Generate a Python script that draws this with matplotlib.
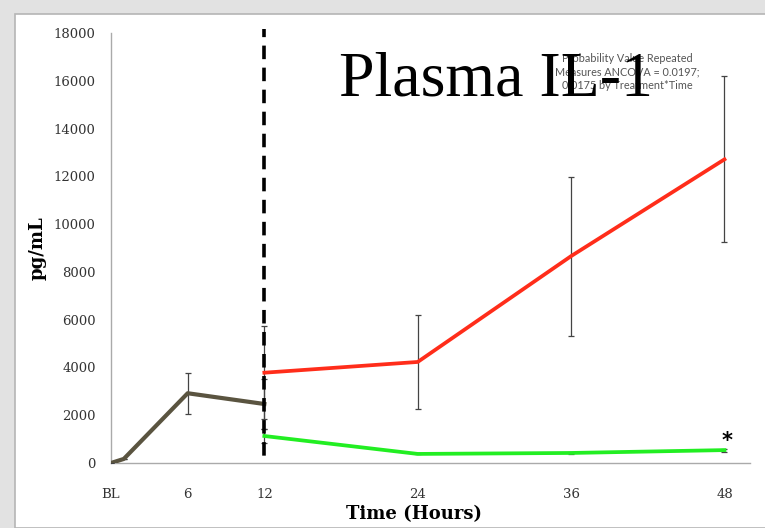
import matplotlib
matplotlib.use("Agg")
import matplotlib.pyplot as plt
from matplotlib.patches import Rectangle

# data
tick_hours = [0, 6, 12, 24, 36, 48]
tick_labels = ["BL", "6", "12", "24", "36", "48"]

base_hours = [0, 1, 6, 12]
base_vals = [0, 170, 2920, 2470]
base_err = [0, 0, 850, 1040]

red_hours = [12, 24, 36, 48]
red_vals = [3780, 4230, 8660, 12710]
red_err = [1940, 1970, 3330, 3470]

green_hours = [12, 24, 36, 48]
green_vals = [1130, 380, 420, 540]
green_err = [300, 20, 40, 60]

y_ticks = list(range(0, 18001, 2000))

fig = plt.figure(figsize=(7.65, 5.28), dpi=100, facecolor="#e2e2e2")
# white page panel, kept behind the axes
fig.patches.append(Rectangle((15 / 765, 0), 1, (528 - 14) / 528,
                             transform=fig.transFigure, facecolor="white",
                             edgecolor="#b5b5b5", lw=1.2, zorder=-1))

ax = fig.add_axes([111 / 765, 65 / 528, 639 / 765, 430 / 528])
ax.set_facecolor("none")

err_kw = dict(ecolor="#444444", elinewidth=0.9, capsize=2.5, capthick=0.9)

ax.errorbar(base_hours, base_vals, yerr=base_err, color="#5a5440", lw=3,
            zorder=3, **err_kw)
ax.errorbar(red_hours, red_vals, yerr=red_err, color="#ff2d1a", lw=2.7,
            zorder=3, **err_kw)
ax.errorbar(green_hours, green_vals, yerr=green_err, color="#22ee22", lw=2.7,
            zorder=3, **err_kw)

# treatment start marker, drawn top-down
ax.plot([12, 12], [18170, 0], color="black", lw=2.6,
        linestyle=(1.5, (3.75, 2.35)), clip_on=False, zorder=4)

ax.text(48.2, 650, "*", fontsize=15, fontweight="bold", ha="center",
        va="baseline", family="DejaVu Sans")

ax.set_xlim(0, 50)
ax.set_ylim(0, 18000)
ax.set_xticks(tick_hours)
ax.set_xticklabels(tick_labels)
ax.set_yticks(y_ticks)

for s in ["top", "right"]:
    ax.spines[s].set_visible(False)
for s in ["left", "bottom"]:
    ax.spines[s].set_color("#aaaaaa")
    ax.spines[s].set_linewidth(1)

ax.tick_params(axis="both", length=0, labelsize=9.5, labelcolor="#333333")
ax.tick_params(axis="x", pad=18)
ax.tick_params(axis="y", pad=11)
for lab in ax.get_xticklabels() + ax.get_yticklabels():
    lab.set_family("DejaVu Serif")

ax.set_ylabel("pg/mL", family="DejaVu Serif", fontweight="bold", fontsize=13,
              labelpad=10)
ax.yaxis.set_label_coords(-0.1, 0.5)
ax.set_xlabel("Time (Hours)", family="DejaVu Serif", fontweight="bold",
              fontsize=13)
ax.xaxis.set_label_coords(0.474, -0.097)

fig.text(627 / 765, 1 - 72 / 528,
         "Probability Value Repeated\nMeasures ANCOVA = 0.0197;\n0.0175 by Treatment*Time",
         ha="center", va="center", fontsize=7.8, color="#555555",
         family="Lato", linespacing=1.25, zorder=5)
fig.text(496 / 765, 1 - 95 / 528, "Plasma IL-1", ha="center", va="baseline",
         fontsize=46, family="Liberation Serif", color="black", zorder=6)

fig.savefig("out.png", dpi=100, facecolor=fig.get_facecolor())
